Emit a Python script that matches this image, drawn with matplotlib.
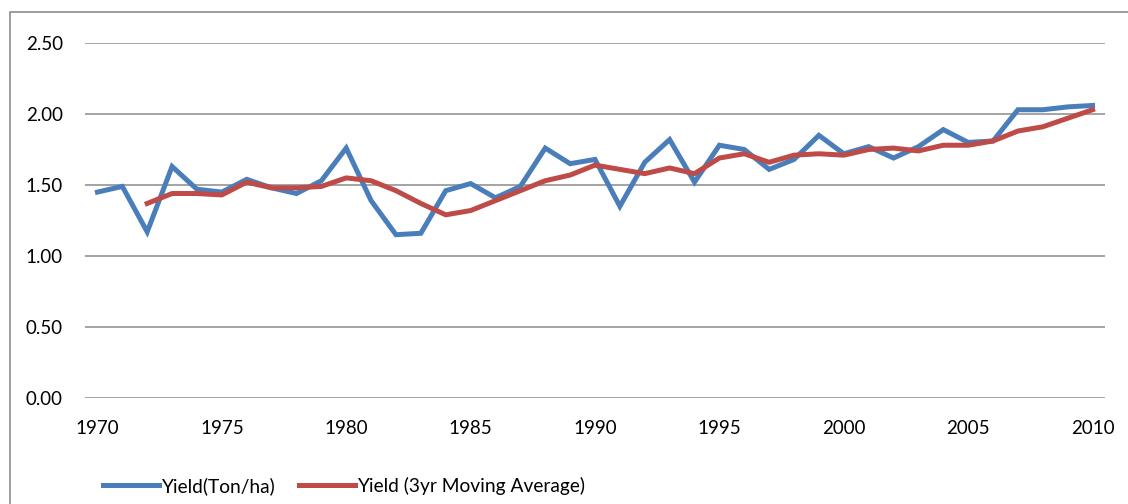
import matplotlib.pyplot as plt
import numpy as np

# Data
years = list(range(1970, 2011))
yield_t = [1.45, 1.49, 1.17, 1.63, 1.47, 1.45, 1.54, 1.48, 1.44, 1.53,
           1.76, 1.39, 1.15, 1.16, 1.46, 1.51, 1.41, 1.49, 1.76, 1.65,
           1.68, 1.35, 1.66, 1.82, 1.52, 1.78, 1.75, 1.61, 1.68, 1.85,
           1.72, 1.77, 1.69, 1.77, 1.89, 1.80, 1.81, 2.03, 2.03, 2.05,
           2.06]
ma_years = list(range(1972, 2011))
yield_ma = [1.37, 1.44, 1.44, 1.43, 1.52, 1.48, 1.48, 1.49,
            1.55, 1.53, 1.46, 1.37, 1.29, 1.32, 1.39, 1.46, 1.53, 1.57,
            1.64, 1.61, 1.58, 1.62, 1.58, 1.69, 1.72, 1.66, 1.71, 1.72,
            1.71, 1.75, 1.76, 1.74, 1.78, 1.78, 1.81, 1.88, 1.91, 1.97,
            2.03]
xticks = list(range(1970, 2011, 5))
yticks = [0.0, 0.5, 1.0, 1.5, 2.0, 2.5]

plt.rcParams['font.family'] = ['Lato', 'DejaVu Sans']

fig = plt.figure(figsize=(11.28, 5.04), dpi=100)
ax = fig.add_axes([85/1128, 1 - 398/504, 1020/1128, 355/504])

# chart border (partly outside the image)
border = plt.Rectangle((10/1128, -0.1), 1.2, 1 - 12/504 + 0.1,
                       transform=fig.transFigure, fill=False,
                       edgecolor='#8c8c8c', linewidth=1.2, clip_on=False)
fig.patches.append(border)

for y in yticks:
    ax.axhline(y, color='#8a8a8a', linewidth=1.1, zorder=1)

ax.plot(years, yield_t, color='#4a7ebb', linewidth=3.6,
        solid_joinstyle='miter', label='Yield(Ton/ha)', zorder=3)
ax.plot(ma_years, yield_ma, color='#be4b48', linewidth=3.6,
        label='Yield (3yr Moving Average)', zorder=4)

ax.set_xlim(1969.5, 2010.5)
ax.set_ylim(0, 2.5)
ax.set_xticks(xticks)
ax.set_yticks(yticks)
ax.set_yticklabels([f'{v:.2f}' for v in yticks])
ax.tick_params(axis='both', length=0, labelsize=13.5, colors='black')
ax.tick_params(axis='x', pad=16)
ax.tick_params(axis='y', pad=16)
for s in ax.spines.values():
    s.set_visible(False)

ax.legend(loc='center', bbox_to_anchor=(344/1128, 1 - 486/504),
          bbox_transform=fig.transFigure, ncol=2, frameon=False,
          fontsize=13.8, handlelength=2.9, handletextpad=0.1,
          columnspacing=1.3)

plt.savefig('out.png', dpi=100)
plt.close()
